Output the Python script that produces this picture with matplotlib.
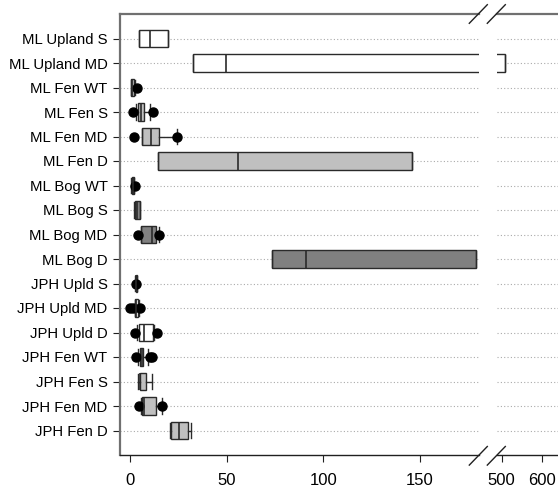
import matplotlib
matplotlib.use("Agg")
import matplotlib.pyplot as plt
from matplotlib.lines import Line2D

plt.rcParams['font.family'] = ['Liberation Sans', 'DejaVu Sans']

categories = ["ML Upland S", "ML Upland MD", "ML Fen WT", "ML Fen S", "ML Fen MD",
              "ML Fen D", "ML Bog WT", "ML Bog S", "ML Bog MD", "ML Bog D",
              "JPH Upld S", "JPH Upld MD", "JPH Upld D", "JPH Fen WT", "JPH Fen S",
              "JPH Fen MD", "JPH Fen D"]
whislo = [4.8, 32.4, 0.3, 2.9, 6.4, 14.6, 0.5, 2.2, 5.5, 73.3, 2.8, 2.4, 3.8, 4.2, 3.9, 5.5, 20.7]
q1     = [4.8, 32.4, 0.6, 4.3, 6.4, 14.6, 0.8, 2.4, 5.9, 73.3, 2.9, 2.7, 4.7, 5.2, 5.0, 6.4, 21.2]
median = [10.5, 49.6, 1.0, 5.5, 10.9, 55.7, 1.3, 3.5, 11.3, 91.0, 3.2, 3.3, 7.3, 6.0, 5.3, 7.3, 25.5]
q3     = [19.5, 508.0, 2.0, 7.2, 15.2, 145.6, 2.0, 5.0, 13.4, 179.0, 3.5, 4.0, 11.7, 6.9, 8.5, 13.4, 29.8]
whishi = [19.5, 508.0, 2.6, 10.3, 24.1, 145.6, 2.3, 5.2, 15.0, 179.0, 3.7, 4.4, 12.2, 9.5, 11.4, 16.4, 31.5]
fliers = [[], [], [3.8], [1.7, 12.0], [2.2, 24.2], [], [2.8], [], [4.2, 15.2], [],
          [3.2], [0.2, 1.4, 5.0], [2.6, 14.1], [3.2, 10.5, 11.3], [], [4.7, 16.7], []]
site   = ["Upland", "Upland", "Fen", "Fen", "Fen", "Fen", "Bog", "Bog", "Bog", "Bog",
          "Upland", "Upland", "Upland", "Fen", "Fen", "Fen", "Fen"]
site_colors = {"Upland": "white", "Fen": "#c0c0c0", "Bog": "#808080"}
left_ticks = [0, 50, 100, 150]
right_ticks = [500, 600]

W, H = 558, 487
fig = plt.figure(figsize=(W / 100, H / 100), dpi=100)
axL = fig.add_axes([120 / W, 32 / H, 359 / W, 441 / H])
axR = fig.add_axes([497 / W, 32 / H, 61 / W, 441 / H])

stats = []
for i, c in enumerate(categories):
    stats.append(dict(label=c, whislo=whislo[i], q1=q1[i], med=median[i], q3=q3[i],
                      whishi=whishi[i], fliers=fliers[i]))
positions = list(range(1, len(categories) + 1))
edge = "#2a2a2a"

for ax in (axL, axR):
    for p in positions:
        ax.axhline(p, color="#aaaaaa", lw=0.8, ls=(0, (1, 2)), zorder=0)
    bp = ax.bxp(stats, positions=positions, orientation="horizontal", widths=0.7,
                capwidths=0.62, patch_artist=True, manage_ticks=False,
                boxprops=dict(edgecolor=edge, linewidth=1.0),
                medianprops=dict(color=edge, linewidth=1.2),
                whiskerprops=dict(color=edge, linewidth=1.0),
                capprops=dict(color=edge, linewidth=1.0),
                flierprops=dict(marker="o", markerfacecolor="black",
                                markeredgecolor="black", markersize=6.5))
    for patch, s in zip(bp["boxes"], site):
        patch.set_facecolor(site_colors[s])
    ax.set_ylim(len(categories) + 1, 0)
    ax.spines["right"].set_visible(False)
    ax.spines["top"].set_color("#707070")
    ax.spines["top"].set_linewidth(1.6)
    ax.spines["bottom"].set_color("#202020")
    ax.spines["bottom"].set_linewidth(1.0)
    ax.tick_params(axis="x", direction="out", length=5, color="#202020",
                   labelsize=12, pad=8)

axL.set_xlim(-5.17, 180.45)
axL.set_xticks(left_ticks)
axL.set_yticks(positions)
axL.set_yticklabels(categories, fontsize=10.7)
axL.tick_params(axis="y", direction="out", length=5, color="#202020", pad=4)
axL.spines["left"].set_color("#707070")
axL.spines["left"].set_linewidth(1.6)

axR.set_xlim(488.3, 640.75)
axR.set_xticks(right_ticks)
axR.set_yticks([])
axR.spines["left"].set_visible(False)

# break marks
def brk(x0, y0, x1, y1):
    fig.add_artist(Line2D([x0 / W, x1 / W], [1 - y0 / H, 1 - y1 / H],
                          transform=fig.transFigure, color="#202020", lw=1.0))

for yc in (14, 455.8):
    for xc in (478.3, 496.3):
        brk(xc - 9, yc + 9.3, xc + 9, yc - 9.3)

fig.savefig("out.png", dpi=100)
